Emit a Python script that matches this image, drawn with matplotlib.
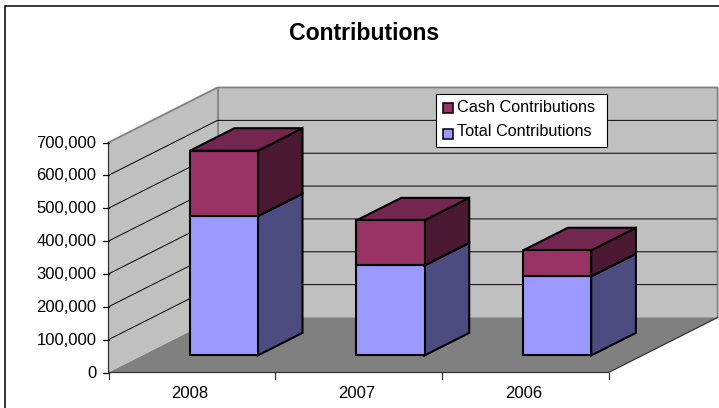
import matplotlib
matplotlib.use('Agg')
import matplotlib.pyplot as plt
from matplotlib.patches import Polygon, Rectangle

plt.rcParams['font.family'] = ['Liberation Sans', 'DejaVu Sans']

years = ['2008', '2007', '2006']
total_contributions = [424000, 274000, 241000]
cash_contributions = [199000, 137000, 79000]
y_ticks = [0, 100000, 200000, 300000, 400000, 500000, 600000, 700000]

# colours: front, top, side
total_colors = ('#9999FF', '#7373BF', '#4C4C80')
cash_colors = ('#993366', '#732650', '#4C1933')

# layout in pixels
X0, Y0 = 108.5, 372.5
CAT_W = 166.7
DEPTH_X, DEPTH_Y = 109, -55
VAL_K = (372.5 - 142.5) / 700000
BAR_L, BAR_R = 0.285, 0.693
BAR_D0, BAR_D1 = 0.31, 0.72


def proj(cat, value, depth):
    return (X0 + cat * CAT_W + depth * DEPTH_X, Y0 - value * VAL_K + depth * DEPTH_Y)


fig = plt.figure(figsize=(7.19, 4.08), dpi=100)
ax = fig.add_axes([0, 0, 1, 1])
ax.set_xlim(0, 719)
ax.set_ylim(408, 0)
ax.axis('off')

# chart frame, only top and left show
ax.plot([4.5, 4.5, 719], [408, 5.5, 5.5], color='black', lw=1.1, solid_joinstyle='miter')

n = len(years)
top = y_ticks[-1]

# walls and floor
ax.add_patch(Polygon([proj(0, 0, 0), proj(0, 0, 1), proj(0, top, 1), proj(0, top, 0)], fc='#C0C0C0', ec='none'))
ax.add_patch(Polygon([proj(0, 0, 1), proj(n, 0, 1), proj(n, top, 1), proj(0, top, 1)], fc='#C0C0C0', ec='none'))
ax.add_patch(Polygon([proj(0, 0, 0), proj(n, 0, 0), proj(n, 0, 1), proj(0, 0, 1)], fc='#808080', ec='none'))

# gridlines
for v in y_ticks[1:-1]:
    pts = [proj(0, v, 0), proj(0, v, 1), proj(n, v, 1)]
    ax.plot([p[0] for p in pts], [p[1] for p in pts], color='black', lw=0.7, solid_joinstyle='miter', zorder=2)

# wall edges
pts = [proj(0, top, 0), proj(0, top, 1), proj(n, top, 1), proj(n, 0, 1)]
ax.plot([p[0] for p in pts], [p[1] for p in pts], color='#808080', lw=1.3, zorder=2)
pts = [proj(0, 0, 1), proj(0, top, 1)]
ax.plot([p[0] for p in pts], [p[1] for p in pts], color='#808080', lw=1.3, zorder=1.5)

# front axis lines
pts = [proj(0, top, 0), proj(0, 0, 0), proj(n, 0, 0), proj(n, 0, 1)]
ax.plot([p[0] for p in pts], [p[1] for p in pts], color='#333333', lw=0.9, zorder=2)

for v in y_ticks:
    x, y = proj(0, v, 0)
    ax.plot([x - 6, x], [y, y], color='black', lw=0.9, zorder=2)
    ax.text(x - 12, y + 0.5, f'{v:,}', ha='right', va='center', fontsize=12, color='black')

for i in range(n + 1):
    x, y = proj(i, 0, 0)
    ax.plot([x, x], [y, y + 6], color='#333333', lw=0.9, zorder=2)

for i, yr in enumerate(years):
    x, y = proj(i + 0.5, 0, 0)
    ax.text(x - 2, 393, yr, ha='center', va='center', fontsize=12, color='black')


def draw_box(i, v0, v1, colors):
    l, r = i + BAR_L, i + BAR_R
    edge = dict(ec='black', lw=1.5, joinstyle='miter', zorder=3)
    ax.add_patch(Polygon([proj(r, v0, BAR_D0), proj(r, v0, BAR_D1), proj(r, v1, BAR_D1), proj(r, v1, BAR_D0)], fc=colors[2], **edge))
    ax.add_patch(Polygon([proj(l, v1, BAR_D0), proj(r, v1, BAR_D0), proj(r, v1, BAR_D1), proj(l, v1, BAR_D1)], fc=colors[1], **edge))
    ax.add_patch(Polygon([proj(l, v0, BAR_D0), proj(r, v0, BAR_D0), proj(r, v1, BAR_D0), proj(l, v1, BAR_D0)], fc=colors[0], **edge))


for i in range(n):
    t = total_contributions[i]
    c = cash_contributions[i]
    draw_box(i, 0, t, total_colors)
    draw_box(i, t, t + c, cash_colors)

ax.text(364.5, 33.5, 'Contributions', ha='center', va='center', fontsize=16.6, fontweight='bold', color='black')

# legend
ax.add_patch(Rectangle((435.5, 93.5), 171, 53, fc='white', ec='black', lw=0.8, zorder=5))
ax.add_patch(Rectangle((442.5, 103), 10, 10, fc=cash_colors[0], ec='black', lw=1.1, zorder=6))
ax.add_patch(Rectangle((442.5, 128.5), 10, 10, fc=total_colors[0], ec='black', lw=1.1, zorder=6))
ax.text(457, 107, 'Cash Contributions', ha='left', va='center', fontsize=11.7, color='black', zorder=6)
ax.text(457, 132, 'Total Contributions', ha='left', va='center', fontsize=11.7, color='black', zorder=6)

fig.savefig('out.png', dpi=100)
plt.close()
